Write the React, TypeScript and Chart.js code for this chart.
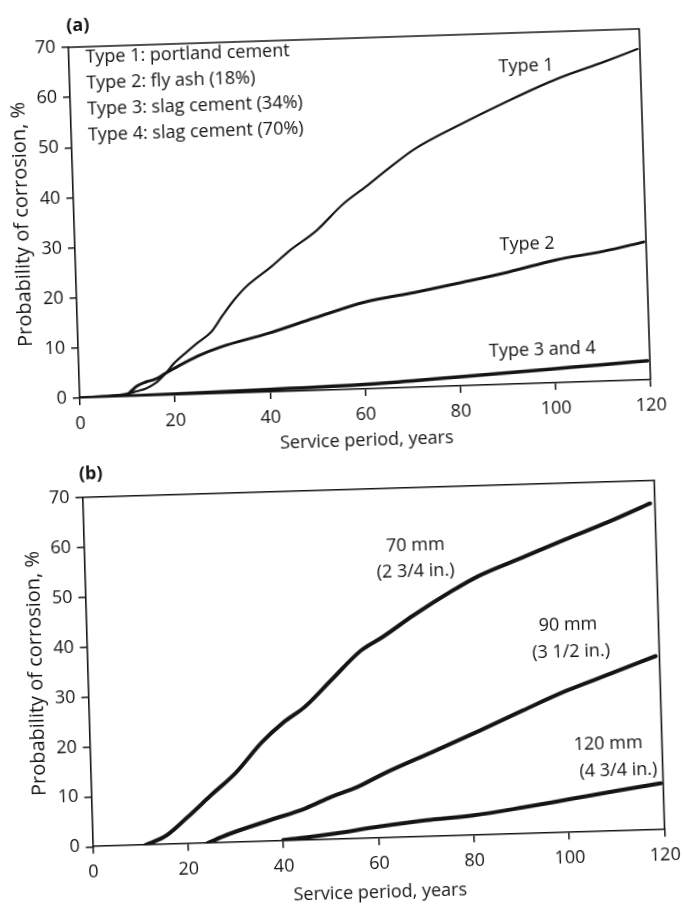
import React, { useEffect, useRef } from 'react';
import { Chart, registerables } from 'chart.js';

Chart.register(...registerables);

// ---------- data: panel (a) ----------
const type1Years = [0, 5, 10, 12, 14, 16, 18, 20, 22.5, 25, 28, 30.5, 33, 35.5, 41, 45, 51, 56.5, 61.5, 66, 72, 82, 92, 102.5, 112.5, 119.5];
const type1Values = [0, 0.2, 0.5, 1, 1.5, 2.5, 4.2, 6.3, 8.3, 10.2, 12.3, 15.5, 18.5, 21, 24.9, 28, 32, 36.9, 40.3, 43.5, 47.5, 52.2, 56.5, 60.6, 63.7, 66];
const type2Years = [0, 5, 10, 11, 12, 14, 16, 18, 20, 25, 30, 40, 50, 60.5, 71, 81, 91, 101, 111, 119.5];
const type2Values = [0, 0.2, 0.5, 1.2, 2, 2.8, 3.3, 4.3, 5.3, 7.6, 9.3, 11.7, 14.5, 17.3, 18.9, 20.6, 22.4, 24.5, 25.9, 27.5];
const type34Years = [0, 20, 40, 60, 70, 80, 90, 100, 110, 119.5];
const type34Values = [0, 0.2, 0.5, 0.9, 1.3, 1.8, 2.3, 2.8, 3.3, 3.8];
const legendLinesA = [
  'Type 1: portland cement',
  'Type 2: fly ash (18%)',
  'Type 3: slag cement (34%)',
  'Type 4: slag cement (70%)',
];
const seriesLabelsA = ['Type 1', 'Type 2', 'Type 3 and 4'];

// ---------- data: panel (b) ----------
const mm70Years = [11, 15.5, 20, 25, 30.5, 36, 40.7, 45.4, 51, 57.5, 62, 68.7, 77, 82.6, 91.8, 101, 110.3, 119];
const mm70Values = [0, 1.8, 5.3, 9.5, 14, 19.8, 23.7, 26.8, 31.9, 37.7, 40.2, 44.4, 49.1, 51.9, 55.3, 58.7, 62, 65.4];
const mm90Years = [24, 28.3, 37.5, 44.8, 50.4, 55.9, 61.5, 72.5, 81.8, 91, 100.3, 109.5, 119.2];
const mm90Values = [0, 1.6, 4.3, 6.4, 8.6, 10.4, 12.9, 17.2, 20.9, 24.7, 28.4, 31.5, 34.8];
const mm120Years = [40, 45, 51, 60, 70, 80, 90.5, 100.5, 110.5, 119.5];
const mm120Values = [0.2, 0.6, 1.2, 2.3, 3.3, 4, 5.3, 6.7, 8.1, 9.3];
const seriesLabelsB = ['70 mm', '(2 3/4 in.)', '90 mm', '(3 1/2 in.)', '120 mm', '(4 3/4 in.)'];

// ---------- axes ----------
const xTickStep = 20;
const yTickStep = 10;
const xMax = 120;
const yMax = 70;
const xTitle = 'Service period, years';
const yTitle = 'Probability of corrosion, %';

const FONT = "'Open Sans', 'Noto Sans', sans-serif";
const INK = '#141414';
const W = 683;

type Label = { text: string; x: number; y: number; align: CanvasTextAlign };

type Panel = {
  letter: string;
  top: number;
  height: number;
  area: { left: number; right: number; top: number; bottom: number };
  rotate: number;
  yTitlePad: number;
  xTitlePad: number;
  letterPos: { x: number; y: number };
  series: { xs: number[]; ys: number[]; width: number }[];
  labels: Label[];
};

const zip = (xs: number[], ys: number[]) => xs.map((x, i) => ({ x, y: ys[i] }));

const panels: Panel[] = [
  {
    letter: '(a)',
    top: 0,
    height: 460,
    area: { left: 74, right: 645, top: 38, bottom: 389 },
    rotate: -1.85,
    yTitlePad: 10,
    xTitlePad: 8,
    letterPos: { x: 84, y: 17 },
    series: [
      { xs: type1Years, ys: type1Values, width: 2.2 },
      { xs: type2Years, ys: type2Values, width: 3 },
      { xs: type34Years, ys: type34Values, width: 3.5 },
    ],
    labels: [
      ...legendLinesA.map((t, i) => ({ text: t, x: 3.5, y: 67.9 - i * 5.2, align: 'left' as CanvasTextAlign })),
      { text: seriesLabelsA[0], x: 96, y: 63.3, align: 'center' },
      { text: seriesLabelsA[1], x: 95, y: 27.7, align: 'center' },
      { text: seriesLabelsA[2], x: 97.5, y: 6.7, align: 'center' },
    ],
  },
  {
    letter: '(b)',
    top: 440,
    height: 464,
    area: { left: 87.5, right: 659.5, top: 48.75, bottom: 398.25 },
    rotate: -1.7,
    yTitlePad: 24,
    xTitlePad: 0.5,
    letterPos: { x: 96.5, y: 25.75 },
    series: [
      { xs: mm70Years, ys: mm70Values, width: 4 },
      { xs: mm90Years, ys: mm90Values, width: 4 },
      { xs: mm120Years, ys: mm120Values, width: 4 },
    ],
    labels: [
      { text: seriesLabelsB[0], x: 69.5, y: 58.3, align: 'center' },
      { text: seriesLabelsB[1], x: 69.4, y: 53.1, align: 'center' },
      { text: seriesLabelsB[2], x: 101, y: 41.5, align: 'center' },
      { text: seriesLabelsB[3], x: 101.5, y: 36.1, align: 'center' },
      { text: seriesLabelsB[4], x: 108.7, y: 17.4, align: 'center' },
      { text: seriesLabelsB[5], x: 110.7, y: 12.1, align: 'center' },
    ],
  },
];

function PanelChart({ p }: { p: Panel }) {
  const ref = useRef<HTMLCanvasElement | null>(null);

  useEffect(() => {
    if (!ref.current) return;
    const H = p.height;
    const decor = {
      id: 'decor',
      afterDraw(chart: any) {
        const { ctx, chartArea, scales } = chart;
        ctx.save();
        ctx.strokeStyle = INK;
        ctx.lineWidth = 1.6;
        ctx.beginPath();
        ctx.moveTo(chartArea.left, chartArea.top);
        ctx.lineTo(chartArea.right, chartArea.top);
        ctx.lineTo(chartArea.right, chartArea.bottom);
        ctx.stroke();
        ctx.fillStyle = INK;
        ctx.textBaseline = 'middle';
        ctx.font = `18px ${FONT}`;
        for (const l of p.labels) {
          ctx.textAlign = l.align;
          ctx.fillText(l.text, scales.x.getPixelForValue(l.x), scales.y.getPixelForValue(l.y));
        }
        ctx.font = `bold 18px ${FONT}`;
        ctx.textAlign = 'center';
        ctx.fillText(p.letter, p.letterPos.x, p.letterPos.y);
        ctx.restore();
      },
    };

    const chart = new Chart(ref.current, {
      type: 'line',
      data: {
        datasets: p.series.map((s) => ({
          data: zip(s.xs, s.ys),
          borderColor: INK,
          borderWidth: s.width,
          pointRadius: 0,
          fill: false,
          cubicInterpolationMode: 'monotone' as const,
          borderCapStyle: 'round' as const,
          borderJoinStyle: 'round' as const,
        })),
      },
      options: {
        animation: false,
        responsive: false,
        devicePixelRatio: 1,
        layout: {
          padding: { left: 0, top: p.area.top, right: W - p.area.right, bottom: 0 },
        },
        plugins: { legend: { display: false }, tooltip: { enabled: false } },
        scales: {
          x: {
            type: 'linear',
            min: 0,
            max: xMax,
            afterFit: (s: any) => {
              s.height = H - p.area.bottom;
            },
            ticks: {
              stepSize: xTickStep,
              color: INK,
              font: { family: FONT, size: 18 },
              padding: 8,
              maxRotation: 0,
            },
            grid: { display: true, drawOnChartArea: false, drawTicks: true, tickLength: 7, color: INK, lineWidth: 1.5 },
            border: { display: true, color: INK, width: 1.6 },
            title: {
              display: true,
              text: xTitle,
              color: INK,
              font: { family: FONT, size: 18 },
              padding: { top: 0, bottom: p.xTitlePad },
            },
          },
          y: {
            type: 'linear',
            min: 0,
            max: yMax,
            afterFit: (s: any) => {
              s.width = p.area.left;
            },
            ticks: {
              stepSize: yTickStep,
              color: INK,
              font: { family: FONT, size: 18 },
              padding: 6,
            },
            grid: { display: true, drawOnChartArea: false, drawTicks: true, tickLength: 7, color: INK, lineWidth: 1.5 },
            border: { display: true, color: INK, width: 1.6 },
            title: {
              display: true,
              text: yTitle,
              color: INK,
              font: { family: FONT, size: 20 },
              padding: { top: p.yTitlePad, bottom: 0 },
            },
          },
        },
      },
      plugins: [decor],
    } as any);
    return () => chart.destroy();
  }, [p]);

  const cx = (p.area.left + p.area.right) / 2;
  const cy = (p.area.top + p.area.bottom) / 2;
  return (
    <canvas
      ref={ref}
      width={W}
      height={p.height}
      style={{
        position: 'absolute',
        left: 0,
        top: p.top,
        width: W,
        height: p.height,
        transform: `rotate(${p.rotate}deg)`,
        transformOrigin: `${cx}px ${cy}px`,
      }}
    />
  );
}

export default function App() {
  return (
    <div style={{ position: 'absolute', left: 0, top: 0, width: W, height: 904, background: '#fff', overflow: 'hidden' }}>
      {panels.map((p) => (
        <PanelChart key={p.letter} p={p} />
      ))}
    </div>
  );
}
